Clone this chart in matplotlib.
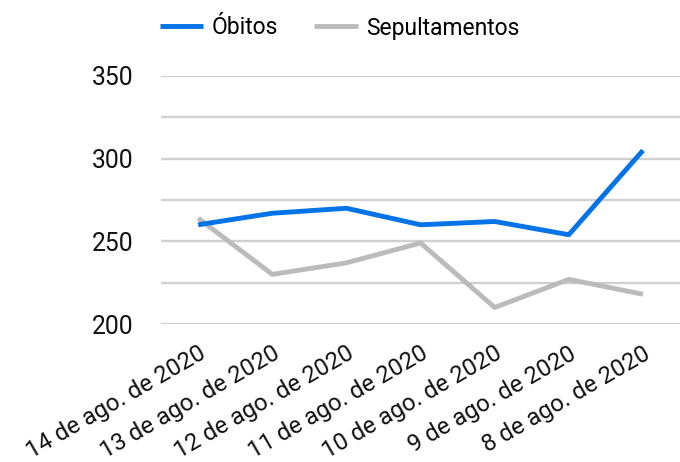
import matplotlib
matplotlib.use("Agg")
import matplotlib.pyplot as plt
from matplotlib.ticker import MultipleLocator

categories = ["14 de ago. de 2020", "13 de ago. de 2020", "12 de ago. de 2020",
              "11 de ago. de 2020", "10 de ago. de 2020", "9 de ago. de 2020",
              "8 de ago. de 2020"]
obitos = [260, 267, 270, 260, 262, 254, 305]
sepultamentos = [264, 230, 237, 249, 210, 227, 218]

plt.rcParams['font.family'] = ['Roboto', 'DejaVu Sans']

fig = plt.figure(figsize=(6.8, 4.62), dpi=100)
ax = fig.add_axes([0.237, 0.2987, 0.763, 0.5368])

x = list(range(len(categories)))
l1, = ax.plot(x, obitos, color='#0073E6', lw=3.5, solid_capstyle='butt', label='Óbitos', zorder=3)
l2, = ax.plot(x, sepultamentos, color='#BBBBBB', lw=3.5, solid_capstyle='butt', label='Sepultamentos', zorder=2)

ax.set_xlim(-0.5, len(categories) - 0.5)
ax.set_ylim(200, 350)
ax.yaxis.set_major_locator(MultipleLocator(50))
ax.yaxis.set_minor_locator(MultipleLocator(25))
ax.grid(True, which='both', axis='y', color='#D0D0D0', lw=1.7)
ax.set_axisbelow(True)
for s in ax.spines.values():
    s.set_visible(False)
ax.tick_params(axis='both', which='both', length=0, colors='#111111')
ax.tick_params(axis='y', labelsize=17.8, pad=20)
ax.set_xticks(x)
ax.set_xticklabels(categories, rotation=30, ha='right', rotation_mode='anchor')
ax.tick_params(axis='x', labelsize=17.2, pad=13)

fig.legend(handles=[l1, l2], loc='center left', bbox_to_anchor=(0.235, 1 - 28 / 462), ncol=2,
           frameon=False, fontsize=16.5, handlelength=1.9, columnspacing=1.6,
           handletextpad=0.35, borderaxespad=0, borderpad=0)

fig.savefig('out.png', dpi=100)
